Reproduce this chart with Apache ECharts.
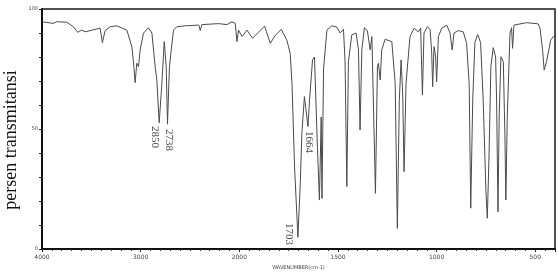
<!DOCTYPE html>
<html>
<head>
<meta charset="utf-8">
<script src="https://cdn.jsdelivr.net/npm/echarts@6/dist/echarts.min.js"></script>
<style>
  html, body { margin: 0; padding: 0; background: #fff; }
  #main { width: 558px; height: 280px; }
</style>
</head>
<body>
<div id="main"></div>
<script>
// bilangan gelombang (cm-1) dan persen transmitansi
var wavenumber = [4000, 3987, 3885, 3851, 3749, 3682, 3638, 3597, 3563, 3513,
  3411, 3388, 3360, 3310, 3242, 3140, 3089, 3073, 3056, 3039,
  3022, 3005, 2972, 2921, 2886, 2853, 2836, 2812, 2785, 2761,
  2741, 2728, 2708, 2690, 2667, 2633, 2548, 2410, 2396, 2379,
  2210, 2125, 2074, 2041, 2024, 2008, 1986, 1961, 1933, 1872,
  1843, 1818, 1787, 1759, 1742, 1733, 1720, 1703, 1691, 1683,
  1670, 1652, 1644, 1629, 1619, 1615, 1604, 1594, 1585, 1581,
  1573, 1556, 1531, 1506, 1489, 1472, 1464, 1455, 1447, 1430,
  1408, 1396, 1388, 1379, 1366, 1351, 1337, 1328, 1320, 1310,
  1300, 1295, 1286, 1278, 1261, 1227, 1210, 1199, 1189, 1180,
  1172, 1165, 1155, 1135, 1114, 1093, 1081, 1072, 1064, 1047,
  1033, 1025, 1020, 1013, 1005, 1000, 991, 974, 949, 932,
  921, 912, 890, 865, 848, 835, 827, 817, 806, 792,
  777, 764, 750, 743, 734, 725, 713, 701, 696, 689,
  683, 674, 662, 654, 649, 642, 628, 620, 615, 608,
  544, 485, 476, 463, 455, 443, 422, 409, 400];
var transmittance = [94.7, 94.7, 94, 94.7, 94.5, 92.6, 90.3, 91.2, 90.5, 91,
  92, 86, 91, 92.6, 93, 91.2, 84.3, 78, 69.3, 77.4,
  76, 83, 89.9, 92.2, 90, 76, 70.4, 52.6, 69, 86.4,
  76, 52, 76, 83, 91.2, 92.6, 93, 93.3, 91, 93.5,
  93.9, 93.5, 94.7, 94, 86.4, 91.2, 88.5, 91.2, 87.8, 92.9,
  85.7, 89, 91.5, 87, 81.5, 69, 34.3, 4.9, 27.4, 48.2,
  63.5, 51, 62, 78.8, 80, 70, 42, 20.4, 55, 21,
  75, 91.2, 93, 92.5, 90, 91.5, 78, 26, 78, 89.2,
  90, 83, 49.6, 83, 92.2, 91, 83, 88.5, 88, 23.2,
  76, 77.4, 70.4, 83, 87.4, 86.4, 69, 8.6, 62, 78.8,
  65, 32.2, 69, 88.5, 92, 90.5, 92, 64.2, 90, 92.6,
  91.5, 82, 67.6, 84.3, 80, 69.7, 88.5, 92, 93.3, 90,
  82.9, 90, 91, 90.5, 85.7, 69, 17, 62, 86, 89.4,
  86, 62, 24, 12.8, 40, 76, 83.9, 80, 62, 15.5,
  55, 80.1, 78, 48, 20.4, 55, 90, 92.2, 83.6, 93.3,
  94.3, 93.8, 92, 83, 74.6, 78, 87, 88.5, 88.5];

// label puncak (teks tambahan di gambar)
var peakText = ['2850', '2738', '1664', '1703'];
var peakWn = [2853, 2711, 1646, 1747];
var peakT = [46.7, 45.4, 44.6, 6.3];

var yTickLabels = [0, 50, 100];

// skala sumbu x berubah di 2000 cm-1 (1000/satuan di atas, 500/satuan di bawah)
function toU(wn) { return wn >= 2000 ? (4000 - wn) / 1000 : 2 + (2000 - wn) / 500; }
function toWn(u) { return u <= 2 ? 4000 - u * 1000 : 2000 - (u - 2) * 500; }

var spectrum = [];
for (var i = 0; i < wavenumber.length; i++) {
  spectrum.push([toU(wavenumber[i]), transmittance[i]]);
}
var peaks = [];
for (var j = 0; j < peakText.length; j++) {
  peaks.push({ value: [toU(peakWn[j]), peakT[j]], name: peakText[j] });
}

var myChart = echarts.init(document.getElementById('main'));
var option = {
  animation: false,
  grid: {
    left: 42, right: 3, top: 9, bottom: 31,
    show: true,
    borderColor: '#1a1a1a',
    borderWidth: 1.5
  },
  xAxis: {
    type: 'value',
    min: 0,
    max: 5.2,
    interval: 1,
    name: 'WAVENUMBER(cm-1)',
    nameLocation: 'middle',
    nameGap: 15,
    nameTextStyle: { fontSize: 5, color: '#444', fontFamily: 'DejaVu Sans' },
    axisLine: { onZero: false, lineStyle: { color: '#111', width: 2 } },
    axisTick: { length: 3, lineStyle: { color: '#222' } },
    minorTick: { show: true, splitNumber: 10, length: 2, lineStyle: { color: '#333' } },
    splitLine: { show: false },
    axisLabel: {
      fontSize: 6, color: '#444', margin: 5, fontFamily: 'DejaVu Sans',
      showMaxLabel: false,
      formatter: function (v) { return Math.round(toWn(v)); }
    }
  },
  yAxis: {
    type: 'value',
    min: 0,
    max: 100,
    interval: 10,
    axisLine: { show: true, lineStyle: { color: '#111', width: 2 } },
    axisTick: { show: true, length: 3, lineStyle: { color: '#222' } },
    splitLine: { show: false },
    axisLabel: {
      fontSize: 5, color: '#444', margin: 4, fontFamily: 'DejaVu Sans',
      formatter: function (v) { return yTickLabels.indexOf(v) >= 0 ? v : ''; }
    }
  },
  graphic: [{
    type: 'text',
    left: 2,
    top: 'middle',
    rotation: Math.PI / 2,
    x: 0, y: 148,
    style: {
      text: 'persen transmitansi',
      font: '18px "Liberation Serif", "DejaVu Serif", serif',
      fill: '#111',
      textAlign: 'center',
      textVerticalAlign: 'middle'
    }
  }],
  series: [{
    type: 'line',
    data: spectrum,
    showSymbol: false,
    lineStyle: { color: '#4a4a4a', width: 1 },
    z: 3
  }, {
    type: 'scatter',
    data: peaks,
    symbolSize: 0,
    silent: true,
    label: {
      show: true,
      position: 'inside',
      rotate: -90,
      formatter: '{b}',
      fontSize: 11,
      color: '#111',
      fontFamily: '"Liberation Serif", "DejaVu Serif", serif'
    },
    z: 4
  }]
};
myChart.setOption(option);
</script>
</body>
</html>
